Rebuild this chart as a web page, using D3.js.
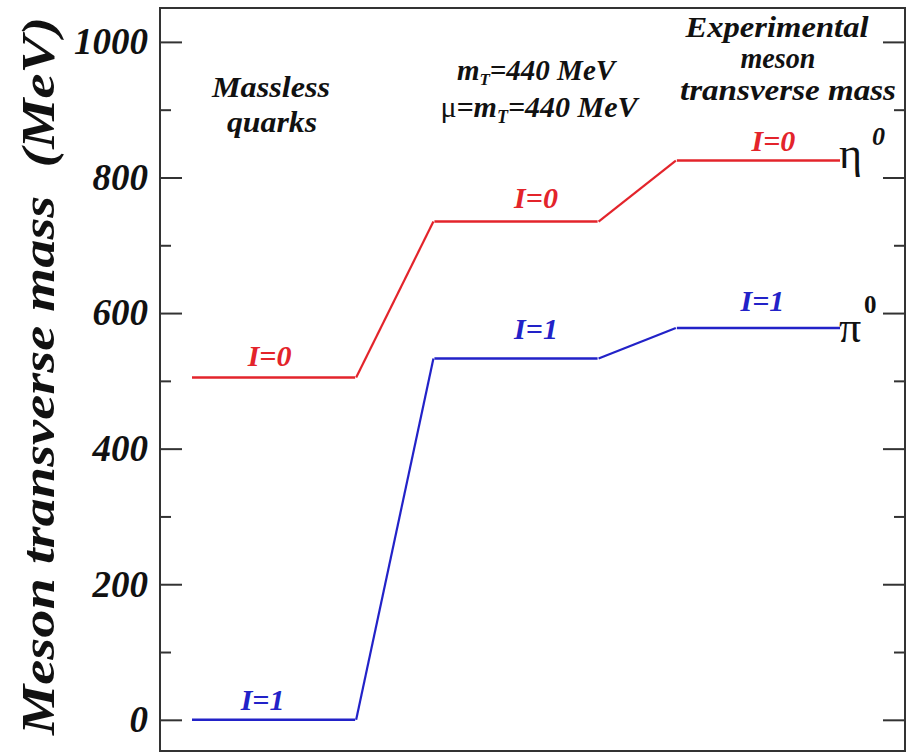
<!DOCTYPE html>
<html>
<head>
<meta charset="utf-8">
<script src="https://cdn.jsdelivr.net/npm/d3@7/dist/d3.min.js"></script>
<style>
  html, body { margin: 0; padding: 0; background: #fff; }
  svg { display: block; }
  text { font-family: "Liberation Serif", "Times New Roman", serif; }
</style>
</head>
<body>
<svg id="chart" width="914" height="753"></svg>
<script>
// Meson transverse masses (MeV) for three quark-mass settings
const levels = ["Massless quarks", "mT = 440 MeV", "Experimental"];
const isoscalarMass = [505, 735, 825];   // I=0 (eta channel)
const isovectorMass = [0, 533, 578];     // I=1 (pion channel)
const majorTicks = [0, 200, 400, 600, 800, 1000];
const minorTicks = [100, 300, 500, 700, 900];

const series = [
  { name: "I=0", values: isoscalarMass, color: "#e3242b" },
  { name: "I=1", values: isovectorMass, color: "#2222c8" }
];

const svg = d3.select("#chart");
const frame = { left: 160, right: 905, top: 8, bottom: 751 };

const y = d3.scaleLinear().domain([-46, 1050]).range([frame.bottom, frame.top]);
const x = d3.scaleBand().domain(levels).range([192, 840]).paddingInner(0.327).paddingOuter(0);
const bw = x.bandwidth();

// Frame
svg.append("rect")
  .attr("x", frame.left).attr("y", frame.top)
  .attr("width", frame.right - frame.left).attr("height", frame.bottom - frame.top)
  .attr("fill", "none").attr("stroke", "#333").attr("stroke-width", 2);

// Axes with inward ticks on both sides
const styleAxis = g => {
  g.select(".domain").remove();
  g.selectAll(".tick line").attr("stroke", "#333").attr("stroke-width", 2);
};

svg.append("g").attr("transform", `translate(${frame.left},0)`)
  .call(d3.axisLeft(y).tickValues(majorTicks).tickFormat(d3.format("d"))
    .tickSizeInner(-22).tickSizeOuter(0).tickPadding(12))
  .call(styleAxis)
  .call(g => g.selectAll(".tick text")
    .attr("font-size", 37).attr("font-weight", "bold").attr("font-style", "italic")
    .attr("fill", "#111").attr("font-family", "Liberation Serif"));

svg.append("g").attr("transform", `translate(${frame.left},0)`)
  .call(d3.axisLeft(y).tickValues(minorTicks).tickSizeInner(-11).tickSizeOuter(0).tickFormat(""))
  .call(styleAxis);

svg.append("g").attr("transform", `translate(${frame.right},0)`)
  .call(d3.axisRight(y).tickValues(majorTicks).tickSizeInner(-22).tickSizeOuter(0).tickFormat(""))
  .call(styleAxis);

svg.append("g").attr("transform", `translate(${frame.right},0)`)
  .call(d3.axisRight(y).tickValues(minorTicks).tickSizeInner(-11).tickSizeOuter(0).tickFormat(""))
  .call(styleAxis);

// Y axis title
svg.append("text")
  .attr("transform", "translate(54,376) rotate(-90)")
  .attr("text-anchor", "middle")
  .attr("font-size", 46).attr("font-weight", "bold").attr("font-style", "italic")
  .attr("textLength", 718).attr("lengthAdjust", "spacingAndGlyphs")
  .attr("fill", "#111")
  .text("Meson transverse mass\u00A0\u00A0(MeV)");

// Level lines: flat segment per setting, slanted connector between settings
series.forEach(s => {
  const g = svg.append("g").attr("stroke", s.color).attr("fill", "none");
  s.values.forEach((v, i) => {
    const x0 = x(levels[i]);
    g.append("line")
      .attr("x1", x0).attr("x2", x0 + bw)
      .attr("y1", y(v)).attr("y2", y(v))
      .attr("stroke-width", 2.6);
    if (i < s.values.length - 1) {
      g.append("line")
        .attr("x1", x0 + bw + 1).attr("y1", y(v))
        .attr("x2", x(levels[i + 1]) - 1).attr("y2", y(s.values[i + 1]))
        .attr("stroke-width", 2.2);
    }
  });
});

// Isospin labels above each level (nudges per label in px)
const labelNudge = {
  "I=0": [[-4, -11], [20, -14], [15, -10]],
  "I=1": [[-11, -10], [20, -19], [4, -17]]
};
series.forEach(s => {
  s.values.forEach((v, i) => {
    const [dx, dy] = labelNudge[s.name][i];
    svg.append("text")
      .attr("x", x(levels[i]) + bw / 2 + dx)
      .attr("y", y(v) + dy)
      .attr("text-anchor", "middle")
      .attr("font-size", 30).attr("font-weight", "bold").attr("font-style", "italic")
      .attr("fill", s.color)
      .text(s.name);
  });
});

// Particle names at the end of the experimental levels
const last = levels.length - 1;
const xEnd = x(levels[last]) + bw;
svg.append("text")
  .attr("x", xEnd - 1).attr("y", y(isoscalarMass[last]) + 7)
  .attr("font-size", 44).attr("fill", "#111").text("\u03B7");
svg.append("text")
  .attr("x", xEnd + 32).attr("y", y(isoscalarMass[last]) - 16)
  .attr("font-size", 26).attr("font-weight", "bold").attr("font-style", "italic")
  .attr("fill", "#111").text("0");

svg.append("text")
  .attr("x", xEnd - 1).attr("y", y(isovectorMass[last]) + 14)
  .attr("font-size", 44).attr("fill", "#111").text("\u03C0");
svg.append("text")
  .attr("x", xEnd + 24).attr("y", y(isovectorMass[last]) - 15)
  .attr("font-size", 25).attr("font-weight", "bold")
  .attr("fill", "#111").text("0");

// Column headings
const headFont = t => t.attr("font-size", 30).attr("font-weight", "bold")
  .attr("font-style", "italic").attr("fill", "#111").attr("text-anchor", "middle");
const fit = (t, w) => t.attr("textLength", w).attr("lengthAdjust", "spacingAndGlyphs");

svg.append("text").call(headFont).call(fit, 118).attr("x", 271).attr("y", 97).text("Massless");
svg.append("text").call(headFont).call(fit, 90).attr("x", 272).attr("y", 132).text("quarks");

// Two-line heading for the massive-quark setting
const mid = svg.append("text").call(headFont).attr("y", 80);
mid.append("tspan").attr("x", 536).attr("font-size", 29).text("m");
mid.append("tspan").attr("font-size", 17).attr("dy", 5).text("T");
mid.append("tspan").attr("font-size", 29).attr("dy", -5).text("=440 MeV");

const mid2 = svg.append("text").call(headFont).attr("y", 117);
mid2.append("tspan").attr("x", 539)
  .attr("font-style", "normal").attr("font-weight", "normal").text("\u03BC");
mid2.append("tspan").text("=m");
mid2.append("tspan").attr("font-size", 18).attr("dy", 6).text("T");
mid2.append("tspan").attr("dy", -6).text("=440 MeV");

svg.append("text").call(headFont).call(fit, 183).attr("x", 777).attr("y", 37).text("Experimental");
svg.append("text").call(headFont).call(fit, 75).attr("x", 778).attr("y", 68).text("meson");
svg.append("text").call(headFont).call(fit, 216).attr("x", 788).attr("y", 100).text("transverse mass");
</script>
</body>
</html>
